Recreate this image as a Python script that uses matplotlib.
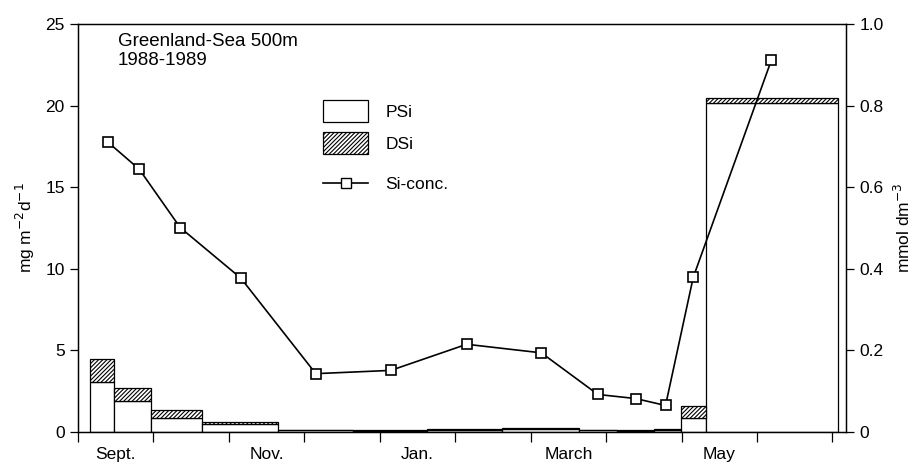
import matplotlib
matplotlib.use('Agg')
import matplotlib.pyplot as plt
from matplotlib.patches import Patch
from matplotlib.lines import Line2D

plt.rcParams['font.family'] = ['Liberation Sans', 'DejaVu Sans']
plt.rcParams['hatch.linewidth'] = 0.8

# Sampling intervals (in months from 1 Sept.) and Si fluxes, mg m-2 d-1
bar_left = [0.163, 0.481, 0.967, 1.642, 2.645, 3.639, 4.632, 5.625, 6.640, 7.148, 7.633, 7.987, 8.318]
bar_right = [0.481, 0.967, 1.642, 2.645, 3.639, 4.632, 5.625, 6.640, 7.148, 7.633, 7.987, 8.318, 10.08]
psi = [3.07, 1.88, 0.86, 0.51, 0.10, 0.08, 0.15, 0.20, 0.10, 0.08, 0.14, 0.86, 20.13]
dsi = [1.43, 0.84, 0.51, 0.13, 0.05, 0.04, 0.06, 0.07, 0.05, 0.04, 0.06, 0.72, 0.35]

# Si concentration, mmol dm-3
conc_x = [0.393, 0.812, 1.355, 2.159, 3.152, 4.146, 5.152, 6.142, 6.891, 7.391, 7.788, 8.155, 9.192]
conc_y = [0.711, 0.644, 0.501, 0.377, 0.143, 0.151, 0.215, 0.194, 0.092, 0.082, 0.065, 0.379, 0.912]

month_labels = ['Sept.', 'Nov.', 'Jan.', 'March', 'May']
month_label_pos = [0.5, 2.5, 4.5, 6.5, 8.5]

FS = 12.5
HATCH = '////////'

fig = plt.figure(figsize=(9.2, 4.68), dpi=100)
ax = fig.add_axes([78 / 920, 36 / 468, 768 / 920, 408 / 468])

widths = [r - l for l, r in zip(bar_left, bar_right)]
ax.bar(bar_left, psi, width=widths, align='edge', color='white',
       edgecolor='black', linewidth=0.9, zorder=2)
ax.bar(bar_left, dsi, width=widths, bottom=psi, align='edge', color='white',
       edgecolor='black', hatch=HATCH, linewidth=0.9, zorder=2)

ax.set_xlim(0, 10.18)
ax.set_ylim(0, 25)
ax.set_yticks([0, 5, 10, 15, 20, 25])
ax.set_xticks(range(11))
ax.set_xticklabels([])
ax.set_xticks(month_label_pos, minor=True)
ax.set_xticklabels(month_labels, minor=True)
ax.tick_params(axis='x', which='minor', length=0, pad=11, labelsize=FS)
ax.tick_params(axis='x', which='major', length=7, width=0.9, direction='out')
ax.tick_params(axis='y', length=6, width=0.9, direction='out', labelsize=FS)
ax.set_ylabel('mg m$^{-2}$d$^{-1}$', fontsize=FS, labelpad=6)
for s in ax.spines.values():
    s.set_linewidth(1.0)

ax2 = ax.twinx()
ax2.plot(conc_x, conc_y, color='black', linewidth=1.2, marker='s',
         markersize=7, markerfacecolor='white', markeredgecolor='black',
         markeredgewidth=1.2, zorder=3)
ax2.set_ylim(0, 1.0)
ax2.set_yticks([0, 0.2, 0.4, 0.6, 0.8, 1.0])
ax2.set_yticklabels(['0', '0.2', '0.4', '0.6', '0.8', '1.0'])
ax2.tick_params(axis='y', length=6, width=0.9, direction='out', labelsize=FS)
ax2.set_ylabel('mmol dm$^{-3}$', fontsize=FS, labelpad=7)

ax.text(0.052, 0.978, 'Greenland-Sea 500m\n1988-1989', transform=ax.transAxes,
        fontsize=13.5, va='top', ha='left', linespacing=1.15)

# Legend: the two bar kinds, then the concentration line a little lower
bar_handles = [
    Patch(facecolor='white', edgecolor='black', linewidth=0.9, label='PSi'),
    Patch(facecolor='white', edgecolor='black', hatch=HATCH, linewidth=0.9, label='DSi'),
]
leg1 = ax2.legend(handles=bar_handles, loc='upper left', bbox_to_anchor=(0.319, 0.814),
                  frameon=False, fontsize=FS, handlelength=2.6, handleheight=1.6,
                  labelspacing=0.55, borderpad=0, borderaxespad=0, handletextpad=1.0)
ax2.add_artist(leg1)
line_handle = [Line2D([], [], color='black', linewidth=1.2, marker='s', markersize=7,
                      markerfacecolor='white', markeredgecolor='black', label='Si-conc.')]
ax2.legend(handles=line_handle, loc='upper left', bbox_to_anchor=(0.319, 0.625),
           frameon=False, fontsize=FS, handlelength=2.6, borderpad=0,
           borderaxespad=0, handletextpad=1.0)

fig.savefig('out.png', dpi=100)
